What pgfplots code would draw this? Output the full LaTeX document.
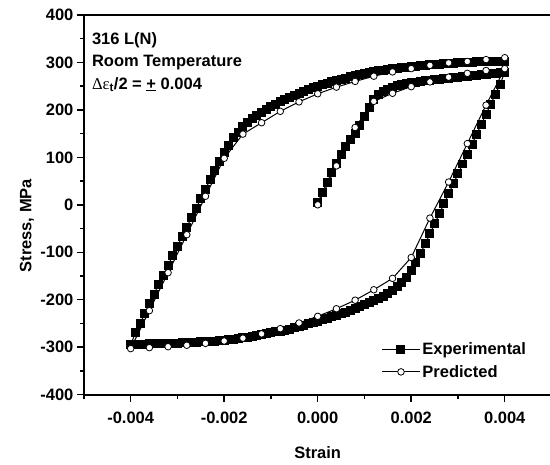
\documentclass[border=0pt]{standalone}
\usepackage{pgfplots}
\pgfplotsset{compat=1.18}
\usepackage{fontspec}
\setmainfont{Liberation Sans}
\newfontfamily\greekfont{Liberation Serif}

\begin{document}
\begin{tikzpicture}
\begin{axis}[
    scale only axis,
    width=468pt, height=380pt,
    xmin=-0.005, xmax=0.005,
    ymin=-400, ymax=400,
    xtick={-0.004,-0.002,0,0.002,0.004},
    xticklabels={-0.004,-0.002,0.000,0.002,0.004},
    minor xtick={-0.005,-0.003,-0.001,0.001,0.003,0.005},
    ytick={-400,-300,...,400},
    yticklabels={-400,-300,-200,-100,0,100,200,300,400},
    minor ytick={-350,-250,...,350},
    scaled x ticks=false,
    tick pos=left,
    tick align=outside,
    major tick length=7pt,
    minor tick length=4pt,
    tick style={black, line width=1.5pt},
    axis line style={line width=2.2pt},
    tick label style={font=\fontsize{16.5}{19}\selectfont\bfseries},
    xticklabel style={yshift=-7pt},
    xlabel={Strain},
    ylabel={Stress, MPa},
    label style={font=\fontsize{16.5}{19}\selectfont\bfseries},
    xlabel style={at={(rel axis cs:0.5,-0.1526)}, anchor=center},
    ylabel style={at={(rel axis cs:-0.122,0.445)}, anchor=center},
    legend style={at={(axis cs:0.00136,-286)}, anchor=north west,
        draw=none, fill=none, inner sep=0pt, row sep=5pt,
        font=\fontsize{16.5}{19}\selectfont\bfseries},
    legend cell align=left,
    legend image code/.code={\draw[mark repeat=2,mark phase=2,#1]
        plot coordinates {(0pt,0pt) (19pt,0pt) (38pt,0pt)};},
]
% experimental: initial loading, unloading, reloading
\addplot[black, line width=1pt, mark=square*, mark size=4pt,
    mark options={solid, fill=black}] coordinates {
    (0,5)(0.0001,25)(0.0002,47)(0.0003,69)(0.0004,88)(0.0005,106)(0.0006,122)
    (0.0007,137)(0.0008,150)(0.0009,168)(0.0010,186)(0.0011,205)(0.0012,221)
    (0.0013,232)(0.0014,239)(0.0015,244)(0.0016,248)(0.0017,251)(0.0018,253)
    (0.0019,255)(0.0020,257)(0.0021,258)(0.0022,260)(0.0023,261)(0.0024,262)
    (0.0025,264)(0.0026,265)(0.0027,266)(0.0028,267)(0.0029,268)(0.0030,269)
    (0.0031,270)(0.0032,271)(0.0033,272)(0.0034,273)(0.0035,274)(0.0036,275)
    (0.0037,276)(0.0038,277)(0.0039,278)(0.0040,279)
    (0.0039,254)(0.0038,233)(0.0037,212)(0.0036,191)(0.0035,170)(0.0034,149)
    (0.0033,128)(0.0032,107)(0.0031,86)(0.0030,65)(0.0029,44)(0.0028,23)
    (0.0027,2)(0.0026,-19)(0.0025,-40)(0.0024,-61)(0.0023,-82)(0.0022,-102)
    (0.0021,-122)(0.0020,-139)(0.0019,-153)(0.0018,-164)(0.0017,-173)(0.0016,-181)
    (0.0015,-187)(0.0014,-193)(0.0013,-198)(0.0012,-202)(0.0011,-206)(0.0010,-210)
    (0.0009,-214)(0.0008,-218)(0.0007,-222)(0.0006,-226)(0.0005,-229)(0.0004,-233)
    (0.0003,-236)(0.0002,-239)(0.0001,-242)(0,-245)(-0.0001,-248)(-0.0002,-251)
    (-0.0003,-254)(-0.0004,-257)(-0.0005,-259)(-0.0006,-262)(-0.0007,-264)
    (-0.0008,-266)(-0.0009,-268)(-0.0010,-270)(-0.0011,-272)(-0.0012,-274)
    (-0.0013,-276)(-0.0014,-277)(-0.0015,-279)(-0.0016,-280)(-0.0017,-281)
    (-0.0018,-283)(-0.0019,-284)(-0.0020,-285)(-0.0021,-286)(-0.0022,-287)
    (-0.0023,-288)(-0.0024,-288)(-0.0025,-289)(-0.0026,-290)(-0.0027,-290)
    (-0.0028,-291)(-0.0029,-291)(-0.0030,-292)(-0.0031,-292)(-0.0032,-292)
    (-0.0033,-293)(-0.0034,-293)(-0.0035,-293)(-0.0036,-293)(-0.0037,-294)
    (-0.0038,-294)(-0.0039,-294)(-0.0040,-295)
    (-0.0039,-270)(-0.0038,-250)(-0.0037,-230)(-0.0036,-208)(-0.0035,-188)
    (-0.0034,-168)(-0.0033,-148)(-0.0032,-127)(-0.0031,-107)(-0.0030,-87)
    (-0.0029,-67)(-0.0028,-47)(-0.0027,-27)(-0.0026,-7)(-0.0025,13)(-0.0024,33)
    (-0.0023,53)(-0.0022,72)(-0.0021,92)(-0.0020,110)(-0.0019,126)(-0.0018,141)
    (-0.0017,153)(-0.0016,164)(-0.0015,173)(-0.0014,181)(-0.0013,188)(-0.0012,195)
    (-0.0011,201)(-0.0010,207)(-0.0009,212)(-0.0008,217)(-0.0007,222)(-0.0006,227)
    (-0.0005,231)(-0.0004,235)(-0.0003,239)(-0.0002,243)(-0.0001,247)(0,250)
    (0.0001,253)(0.0002,256)(0.0003,259)(0.0004,262)(0.0005,265)(0.0006,267)
    (0.0007,270)(0.0008,272)(0.0009,274)(0.0010,276)(0.0011,278)(0.0012,280)
    (0.0013,282)(0.0014,284)(0.0015,285)(0.0016,287)(0.0017,288)(0.0018,289)
    (0.0019,290)(0.0020,291)(0.0021,292)(0.0022,293)(0.0023,294)(0.0024,295)
    (0.0025,296)(0.0026,296)(0.0027,297)(0.0028,298)(0.0029,298)(0.0030,299)
    (0.0031,299)(0.0032,300)(0.0033,300)(0.0034,301)(0.0035,301)(0.0036,301)
    (0.0037,302)(0.0038,302)(0.0039,302)(0.0040,303)
};
\addlegendentry{Experimental}
% predicted
\addplot[black, line width=1pt, mark=*, mark size=3.3pt,
    mark options={solid, fill=white, line width=0.8pt}] coordinates {
    (0,0)(0.0004,82)(0.0008,163)(0.0012,218)(0.0016,235)(0.0020,249)(0.0024,259)
    (0.0028,269)(0.0032,277)(0.0036,283)(0.0040,287)
    (0.0036,210)(0.0032,129)(0.0028,48)(0.0024,-28)(0.0020,-111)(0.0016,-155)
    (0.0012,-179)(0.0008,-201)(0.0004,-219)(0,-235)(-0.0004,-249)(-0.0008,-261)
    (-0.0012,-272)(-0.0016,-281)(-0.0020,-287)(-0.0024,-292)(-0.0028,-296)
    (-0.0032,-299)(-0.0036,-301)(-0.0040,-303)
    (-0.0036,-223)(-0.0032,-143)(-0.0028,-63)(-0.0024,18)(-0.0020,98)(-0.0016,149)
    (-0.0012,173)(-0.0008,197)(-0.0004,217)(0,234)(0.0004,248)(0.0008,260)
    (0.0012,271)(0.0016,280)(0.0020,287)(0.0024,294)(0.0028,299)(0.0032,302)
    (0.0036,306)(0.0040,310)
};
\addlegendentry{Predicted}
\node[anchor=north west, inner sep=0pt, align=left,
    font=\fontsize{16.5}{22.5}\selectfont\bfseries] at (rel axis cs:0.017,0.955)
    {316 L(N)\\Room Temperature\\{\greekfont\mdseries Δε}\textsubscript{t}/2 = \underline{+} 0.004};
\end{axis}
\pgfresetboundingbox
\path ([xshift=-84pt,yshift=-70pt]current axis.south west)
    rectangle ([xshift=-1.5pt,yshift=15pt]current axis.north east);
\end{tikzpicture}
\end{document}
